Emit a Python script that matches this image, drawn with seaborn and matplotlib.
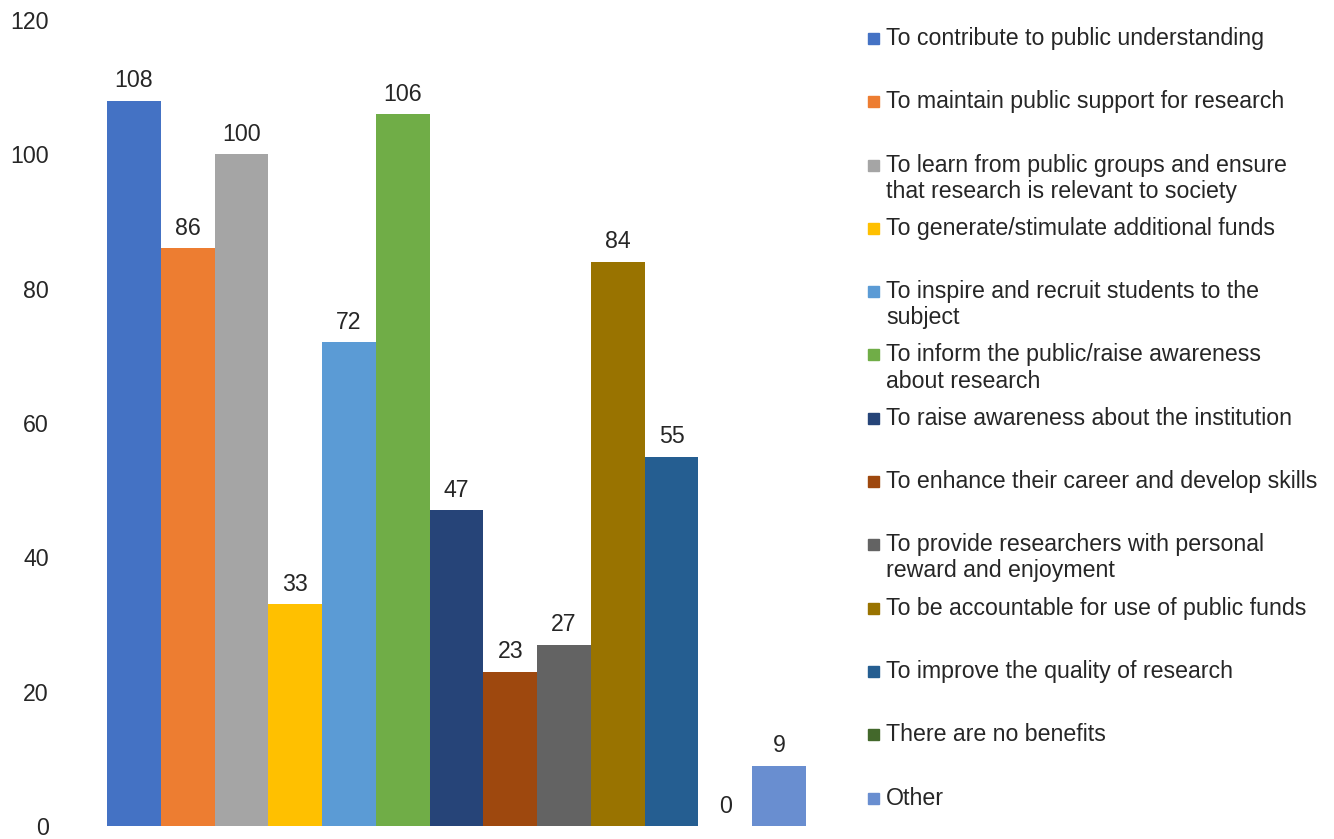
import matplotlib
matplotlib.use("Agg")
import matplotlib.pyplot as plt
from matplotlib.patches import Rectangle
import seaborn as sns
import pandas as pd

# Survey answers: perceived benefits of public engagement
reasons = [
    "To contribute to public understanding",
    "To maintain public support for research",
    "To learn from public groups and ensure\nthat research is relevant to society",
    "To generate/stimulate additional funds",
    "To inspire and recruit students to the\nsubject",
    "To inform the public/raise awareness\nabout research",
    "To raise awareness about the institution",
    "To enhance their career and develop skills",
    "To provide researchers with personal\nreward and enjoyment",
    "To be accountable for use of public funds",
    "To improve the quality of research",
    "There are no benefits",
    "Other",
]
counts = [108, 86, 100, 33, 72, 106, 47, 23, 27, 84, 55, 0, 9]
colors = ["#4472C4", "#ED7D31", "#A5A5A5", "#FFC000", "#5B9BD5", "#70AD47",
          "#264478", "#9E480E", "#636363", "#997300", "#255E91", "#43682B",
          "#698ED0"]
yticks = [0, 20, 40, 60, 80, 100, 120]

df = pd.DataFrame({"reason": reasons, "count": counts})

plt.rcParams["font.family"] = ["Liberation Sans", "DejaVu Sans"]
txt = "#262626"
fs = 16.7
W, H = 1334, 839

fig = plt.figure(figsize=(W / 100, H / 100), dpi=100)
ax = fig.add_axes([64 / W, 13 / H, 785 / W, 806 / H])

sns.barplot(data=df, x="reason", y="count", hue="reason", palette=colors,
            width=1.0, legend=False, ax=ax, saturation=1)

for i, v in enumerate(counts):
    ax.annotate(str(v), (i, v), xytext=(0, 6), textcoords="offset points",
                ha="center", va="bottom", fontsize=fs, color=txt)

ax.set_xlim(-1.3, len(counts) + 0.3)
ax.set_ylim(0, 120)
ax.set_yticks(yticks)
ax.set_xticks([])
ax.set_xlabel("")
ax.set_ylabel("")
ax.tick_params(axis="y", length=0, pad=11, labelsize=fs, labelcolor=txt)
for s in ax.spines.values():
    s.set_visible(False)

# legend at right, one slot per series, multi-line labels flow downward
for i, (lab, col) in enumerate(zip(reasons, colors)):
    y = 38.5 + i * 63.3
    fig.add_artist(Rectangle((868 / W, 1 - (y + 5.5) / H), 11 / W, 11 / H,
                             transform=fig.transFigure, color=col))
    for j, line in enumerate(lab.split("\n")):
        fig.text(886 / W, 1 - (y + j * 26) / H, line, ha="left", va="center",
                 fontsize=fs, color=txt)

fig.savefig("out.png", dpi=100)
